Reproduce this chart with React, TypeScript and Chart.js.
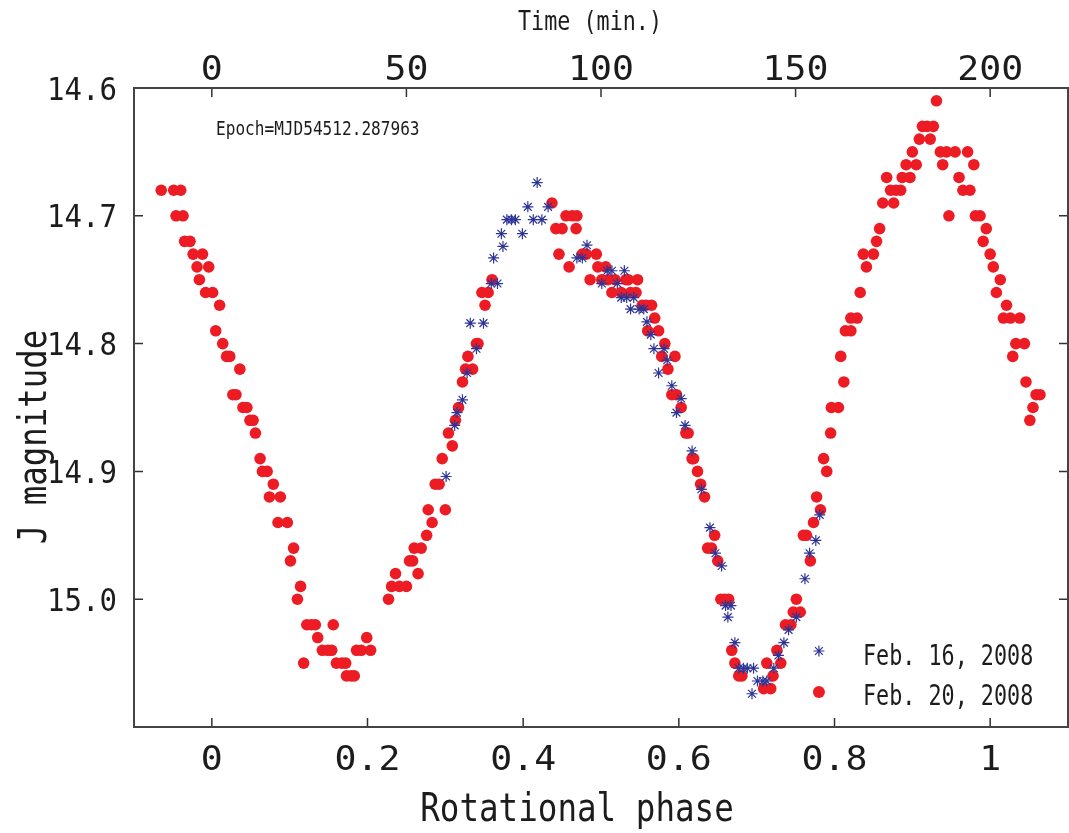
import { useEffect, useRef } from 'react';
import { Chart, registerables } from 'chart.js';

Chart.register(...registerables);

// ---- data ----
const phaseTicks = [0, 0.2, 0.4, 0.6, 0.8, 1];
const phaseTickLabels = ['0', '0.2', '0.4', '0.6', '0.8', '1'];
const timeTicks = [0, 50, 100, 150, 200];
const timeTickLabels = ['0', '50', '100', '150', '200'];
const magTicks = [14.6, 14.7, 14.8, 14.9, 15.0];
const magTickLabels = ['14.6', '14.7', '14.8', '14.9', '15.0'];
const seriesLabels = ['Feb. 16, 2008', 'Feb. 20, 2008'];
const epochText = 'Epoch=MJD54512.287963';
const xTitle = 'Rotational phase';
const yTitle = 'J magnitude';
const topTitle = 'Time (min.)';

// Feb. 16, 2008 : [phase, J mag]
const feb16: [number, number][] = [
  [0.301, 14.904], [0.312, 14.864], [0.315, 14.854], [0.322, 14.844], [0.328, 14.823],
  [0.340, 14.804], [0.332, 14.784], [0.349, 14.784], [0.359, 14.753], [0.367, 14.753],
  [0.362, 14.733], [0.374, 14.724], [0.372, 14.714], [0.399, 14.714], [0.379, 14.703],
  [0.385, 14.703], [0.390, 14.703], [0.413, 14.703], [0.424, 14.703], [0.406, 14.693],
  [0.432, 14.693], [0.418, 14.674],
  [0.469, 14.733], [0.476, 14.733], [0.482, 14.723], [0.508, 14.743], [0.514, 14.743],
  [0.530, 14.743], [0.501, 14.753], [0.521, 14.753], [0.526, 14.764], [0.533, 14.764],
  [0.542, 14.764], [0.538, 14.773], [0.549, 14.773], [0.555, 14.773], [0.559, 14.783],
  [0.564, 14.793], [0.568, 14.804], [0.581, 14.804], [0.585, 14.813], [0.574, 14.823],
  [0.591, 14.833], [0.603, 14.843], [0.597, 14.854], [0.608, 14.864], [0.617, 14.884],
  [0.629, 14.914], [0.640, 14.944], [0.647, 14.964], [0.655, 14.974], [0.660, 15.005],
  [0.667, 15.005], [0.663, 15.014], [0.672, 15.034], [0.677, 15.054], [0.683, 15.054],
  [0.688, 15.054], [0.696, 15.054], [0.694, 15.074], [0.701, 15.064], [0.708, 15.064],
  [0.713, 15.064], [0.722, 15.054], [0.728, 15.044], [0.735, 15.034], [0.741, 15.024],
  [0.751, 15.014], [0.762, 14.984], [0.768, 14.964], [0.776, 14.954], [0.781, 14.934],
];

// Feb. 20, 2008 : [phase, J mag]
const feb20: [number, number][] = [
  [-0.065, 14.68], [-0.049, 14.68], [-0.040, 14.68],
  [-0.046, 14.70], [-0.037, 14.70],
  [-0.035, 14.72], [-0.028, 14.72],
  [-0.024, 14.73], [-0.012, 14.73],
  [-0.019, 14.74], [-0.004, 14.74],
  [-0.016, 14.75],
  [-0.008, 14.76], [0.001, 14.76],
  [0.010, 14.77],
  [0.005, 14.79],
  [0.014, 14.80],
  [0.019, 14.81], [0.023, 14.81],
  [0.036, 14.82],
  [0.027, 14.84], [0.031, 14.84],
  [0.040, 14.85], [0.045, 14.85],
  [0.049, 14.86], [0.053, 14.86],
  [0.056, 14.87],
  [0.062, 14.89],
  [0.065, 14.90], [0.071, 14.90],
  [0.079, 14.91],
  [0.074, 14.92], [0.088, 14.92],
  [0.085, 14.94], [0.097, 14.94],
  [0.105, 14.96],
  [0.101, 14.97],
  [0.114, 14.99],
  [0.110, 15.00],
  [0.122, 15.02], [0.128, 15.02], [0.133, 15.02], [0.156, 15.02],
  [0.136, 15.03], [0.199, 15.03],
  [0.142, 15.04], [0.149, 15.04], [0.154, 15.04], [0.186, 15.04], [0.192, 15.04], [0.204, 15.04],
  [0.118, 15.05], [0.160, 15.05], [0.167, 15.05], [0.172, 15.05],
  [0.173, 15.06], [0.179, 15.06], [0.183, 15.06],
  [0.227, 15.00],
  [0.231, 14.99], [0.241, 14.99], [0.250, 14.99],
  [0.236, 14.98], [0.265, 14.98],
  [0.254, 14.97], [0.258, 14.97],
  [0.260, 14.96], [0.269, 14.96],
  [0.276, 14.95],
  [0.283, 14.94],
  [0.278, 14.93], [0.300, 14.93],
  [0.287, 14.91], [0.292, 14.91],
  [0.296, 14.89],
  [0.309, 14.88],
  [0.304, 14.87],
  [0.313, 14.86],
  [0.317, 14.85],
  [0.322, 14.83],
  [0.326, 14.82], [0.335, 14.82],
  [0.329, 14.81],
  [0.340, 14.80], [0.342, 14.80],
  [0.351, 14.77],
  [0.347, 14.76], [0.355, 14.76],
  [0.360, 14.75],
  [0.437, 14.69],
  [0.455, 14.70], [0.463, 14.70], [0.469, 14.70],
  [0.442, 14.71], [0.450, 14.71], [0.468, 14.71],
  [0.446, 14.73], [0.476, 14.73], [0.481, 14.73], [0.494, 14.73],
  [0.459, 14.74], [0.496, 14.74], [0.506, 14.74],
  [0.486, 14.75], [0.501, 14.75], [0.509, 14.75], [0.518, 14.75], [0.532, 14.75], [0.535, 14.75], [0.547, 14.75],
  [0.514, 14.76], [0.526, 14.76], [0.538, 14.76], [0.545, 14.76],
  [0.553, 14.77], [0.558, 14.77], [0.565, 14.77],
  [0.569, 14.78],
  [0.560, 14.79], [0.574, 14.79],
  [0.582, 14.80],
  [0.578, 14.81], [0.595, 14.81],
  [0.586, 14.82],
  [0.591, 14.84], [0.597, 14.84],
  [0.603, 14.85],
  [0.609, 14.87], [0.612, 14.87],
  [0.617, 14.89], [0.619, 14.89],
  [0.624, 14.90],
  [0.628, 14.91],
  [0.633, 14.92],
  [0.646, 14.95],
  [0.637, 14.96], [0.642, 14.96],
  [0.650, 14.97],
  [0.654, 15.00], [0.659, 15.00], [0.664, 15.00],
  [0.668, 15.04],
  [0.672, 15.05],
  [0.677, 15.06], [0.681, 15.06],
  [0.709, 15.07], [0.718, 15.07],
  [0.721, 15.06],
  [0.713, 15.05], [0.731, 15.05],
  [0.726, 15.04],
  [0.737, 15.02], [0.744, 15.02],
  [0.747, 15.01], [0.756, 15.01],
  [0.751, 15.00],
  [0.769, 14.97],
  [0.760, 14.95], [0.764, 14.95],
  [0.773, 14.94],
  [0.782, 14.93],
  [0.777, 14.92],
  [0.790, 14.90],
  [0.786, 14.89],
  [0.795, 14.87],
  [0.796, 14.85], [0.805, 14.85],
  [0.812, 14.83],
  [0.808, 14.81],
  [0.814, 14.79], [0.821, 14.79],
  [0.821, 14.78], [0.829, 14.78],
  [0.833, 14.76],
  [0.841, 14.74],
  [0.837, 14.73], [0.850, 14.73],
  [0.854, 14.72],
  [0.858, 14.71],
  [0.862, 14.69], [0.876, 14.69],
  [0.867, 14.67], [0.887, 14.67], [0.897, 14.67],
  [0.872, 14.68], [0.879, 14.68], [0.885, 14.68],
  [0.892, 14.66], [0.905, 14.66],
  [0.900, 14.65],
  [0.909, 14.64], [0.923, 14.64],
  [0.913, 14.63], [0.919, 14.63], [0.927, 14.63],
  [0.931, 14.61],
  [0.936, 14.65], [0.944, 14.65], [0.955, 14.65], [0.971, 14.65],
  [0.939, 14.66], [0.979, 14.66],
  [0.960, 14.67],
  [0.965, 14.68], [0.974, 14.68],
  [0.947, 14.70], [0.981, 14.70], [0.987, 14.70],
  [0.995, 14.71],
  [0.991, 14.72],
  [1.000, 14.73],
  [1.004, 14.74],
  [1.013, 14.75],
  [1.008, 14.76],
  [1.021, 14.77],
  [1.017, 14.78], [1.026, 14.78], [1.038, 14.78],
  [1.033, 14.80], [1.044, 14.80],
  [1.029, 14.81],
  [1.046, 14.83],
  [1.059, 14.84], [1.064, 14.84],
  [1.055, 14.85],
  [1.051, 14.86],
];

// ---- styles ----
const BLUE = 'rgb(44,52,150)';
const RED = 'rgb(237,28,36)';
const INK = '#1c1c1c';
const FONT = "'DejaVu Sans Mono', 'Liberation Mono', monospace";
const CAP = 0.729;
const ADV = 0.602;

function drawText(
  ctx: CanvasRenderingContext2D,
  text: string,
  x: number,
  cy: number,
  capH: number,
  adv: number,
  align: CanvasTextAlign,
  rotate = false,
) {
  const size = capH / CAP;
  const sx = adv / (ADV * size);
  ctx.save();
  ctx.translate(x, cy);
  if (rotate) ctx.rotate(-Math.PI / 2);
  ctx.scale(sx, 1);
  ctx.font = `${size}px ${FONT}`;
  ctx.fillStyle = INK;
  ctx.textAlign = align;
  ctx.textBaseline = 'alphabetic';
  ctx.fillText(text, 0, capH / 2);
  ctx.restore();
}

function drawStar(ctx: CanvasRenderingContext2D, x: number, y: number, r: number) {
  ctx.save();
  ctx.strokeStyle = BLUE;
  ctx.lineWidth = 1.2;
  ctx.beginPath();
  for (let i = 0; i < 4; i++) {
    const a = (i * Math.PI) / 4;
    ctx.moveTo(x - Math.cos(a) * r, y - Math.sin(a) * r);
    ctx.lineTo(x + Math.cos(a) * r, y + Math.sin(a) * r);
  }
  ctx.stroke();
  ctx.restore();
}

const decor = {
  id: 'decor',
  afterDraw(chart: any) {
    const { ctx, chartArea: a, scales } = chart;
    const TL = 9;
    ctx.save();
    ctx.strokeStyle = '#333';
    ctx.lineWidth = 1.5;
    ctx.beginPath();
    magTicks.forEach((v) => {
      const y = scales.y.getPixelForValue(v);
      ctx.moveTo(a.left, y);
      ctx.lineTo(a.left + TL, y);
      ctx.moveTo(a.right, y);
      ctx.lineTo(a.right - TL, y);
    });
    phaseTicks.forEach((v) => {
      const x = scales.x.getPixelForValue(v);
      ctx.moveTo(x, a.bottom);
      ctx.lineTo(x, a.bottom - TL);
    });
    timeTicks.forEach((v) => {
      const x = scales.x2.getPixelForValue(v);
      ctx.moveTo(x, a.top);
      ctx.lineTo(x, a.top + TL);
    });
    ctx.stroke();
    ctx.lineWidth = 2;
    ctx.strokeStyle = '#444';
    ctx.strokeRect(a.left, a.top, a.right - a.left, a.bottom - a.top);
    ctx.restore();

    // tick labels
    magTicks.forEach((v, i) => {
      drawText(ctx, magTickLabels[i], a.left - 17, scales.y.getPixelForValue(v), 23, 17.5, 'right');
    });
    phaseTicks.forEach((v, i) => {
      drawText(ctx, phaseTickLabels[i], scales.x.getPixelForValue(v), a.bottom + 30, 25, 22, 'center');
    });
    timeTicks.forEach((v, i) => {
      drawText(ctx, timeTickLabels[i], scales.x2.getPixelForValue(v), a.top - 21, 25, 22, 'center');
    });

    // axis titles
    drawText(ctx, xTitle, 577, 806, 29, 19.6, 'center');
    drawText(ctx, yTitle, 31, 437, 29, 19.5, 'center', true);
    drawText(ctx, topTitle, 590, 20, 19, 13.1, 'center');

    // epoch annotation
    drawText(ctx, epochText, a.left + 82, a.top + 40, 14, 9.7, 'left');

    // legend
    const lx = scales.x.getPixelForValue(0.78);
    drawStar(ctx, lx, 651, 5.5);
    drawText(ctx, seriesLabels[0], 863, 654, 21, 13.1, 'left');
    ctx.save();
    ctx.fillStyle = RED;
    ctx.beginPath();
    ctx.arc(lx, 692, 6, 0, Math.PI * 2);
    ctx.fill();
    ctx.restore();
    drawText(ctx, seriesLabels[1], 863, 694, 21, 13.1, 'left');
  },
};

export default function App() {
  const ref = useRef<HTMLCanvasElement | null>(null);
  useEffect(() => {
    if (!ref.current) return;
    const chart = new Chart(ref.current, {
      type: 'scatter',
      data: {
        datasets: [
          {
            label: seriesLabels[0],
            data: feb16.map(([x, y]) => ({ x, y })),
            pointStyle: 'star',
            radius: 5.5,
            borderColor: BLUE,
            backgroundColor: BLUE,
            borderWidth: 1.2,
          },
          {
            label: seriesLabels[1],
            data: feb20.map(([x, y]) => ({ x, y })),
            pointStyle: 'circle',
            radius: 5.8,
            backgroundColor: RED,
            borderColor: RED,
            borderWidth: 0,
          },
        ],
      },
      options: {
        responsive: false,
        animation: false,
        events: [],
        layout: { autoPadding: false, padding: { left: 134, right: 1, top: 88, bottom: 106 } },
        plugins: { legend: { display: false }, tooltip: { enabled: false } },
        scales: {
          x: { type: 'linear', min: -0.1, max: 1.1, display: false },
          y: { type: 'linear', min: 14.6, max: 15.1, reverse: true, display: false },
          x2: { type: 'linear', position: 'top', min: -20, max: 220, display: false },
        },
      },
      plugins: [decor],
    });
    return () => chart.destroy();
  }, []);
  return (
    <div style={{ position: 'absolute', left: 0, top: 0, width: 1069, height: 833, background: '#fff' }}>
      <canvas ref={ref} width={1069} height={833} />
    </div>
  );
}
